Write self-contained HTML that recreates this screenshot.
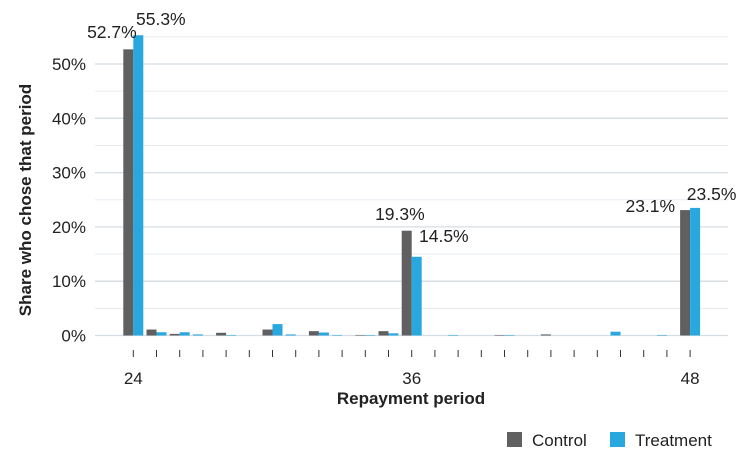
<!DOCTYPE html>
<html><head><meta charset="utf-8"><style>
body{margin:0;background:#fff;width:750px;height:458px;overflow:hidden;font-family:"Liberation Sans",sans-serif}
</style></head><body>
<svg width="750" height="458" id="chart" style="font-family:'Liberation Sans',sans-serif">
<g id="grid"></g><g id="bars"></g><g id="ticks"></g><g id="labels"></g>
<text transform="translate(31,200) rotate(-90)" text-anchor="middle" font-size="17" font-weight="bold" fill="#222">Share who chose that period</text>
<text x="411" y="404" text-anchor="middle" font-size="17" font-weight="bold" fill="#222">Repayment period</text>
<g>
<rect x="507" y="432" width="15" height="15" fill="#606060"/>
<text x="532" y="446" font-size="17" fill="#222">Control</text>
<rect x="610" y="432" width="15" height="15" fill="#29a8e0"/>
<text x="635" y="446" font-size="17" fill="#222">Treatment</text>
</g>
</svg>
<script>
const periods=[24,25,26,27,28,29,30,31,32,33,34,35,36,37,38,39,40,41,42,43,44,45,46,47,48];
const control=[52.7,1.1,0.3,null,0.5,null,1.1,null,0.8,null,0.1,0.8,19.3,null,null,null,0.1,null,0.2,null,null,null,null,null,23.1];
const treatment=[55.3,0.6,0.6,0.2,0.1,null,2.1,0.2,0.55,0.1,0.1,0.4,14.5,null,0.1,null,0.1,null,null,null,null,0.7,null,0.1,23.5];
const yTicks=[0,10,20,30,40,50];
const xLabels=[24,36,48];
const labeled=[24,36,48];
const ctrlLabelOff=[[3.4,-11.3],[13,-10.7],[-15,1.7]];
const trtLabelOff=[[2.7,-10.2],[7.3,-15],[-3.3,-8]];
const NS="http://www.w3.org/2000/svg";
const y=v=>335.5-v*5.43;
const x=p=>133.3+(p-24)*23.2;
const BW=10;
function mk(t,a,parent){const e=document.createElementNS(NS,t);for(const k in a)e.setAttribute(k,a[k]);document.getElementById(parent).appendChild(e);return e;}
for(let v=0;v<=55;v+=5){
 const l=mk('line',{x1:95,x2:728,y1:y(v),y2:y(v),stroke:v%10===0?'#d5dde3':'#e6ecf0','stroke-width':v%10===0?1.3:1},'grid');
 
 
}
yTicks.forEach(v=>{
 const t=mk('text',{x:86,y:y(v)+6,'text-anchor':'end','font-size':17,fill:'#222'},'grid');
 t.textContent=v+'%';
 
 
});
periods.forEach((p,i)=>{
 const cx=x(p);
 const cv=control[i], tv=treatment[i];
 if(cv!==null){
  const c=mk('rect',{x:cx-BW,y:y(cv),width:BW,height:335.5-y(cv),fill:'#606060'},'bars');
  
  
 }
 if(tv!==null){
  const tx=cv===null?cx-BW:cx;
  const t=mk('rect',{x:tx,y:y(tv),width:BW,height:335.5-y(tv),fill:'#29a8e0'},'bars');
  
  
 }
 const tk=mk('line',{x1:cx,x2:cx,y1:350,y2:357,stroke:'#333','stroke-width':1},'ticks');
 
 
 const li=labeled.indexOf(p);
 if(li>=0){
  const co=ctrlLabelOff[li], to=trtLabelOff[li];
  const cl=mk('text',{x:cx+co[0],y:y(cv)+co[1],'text-anchor':'end','font-size':17.5,fill:'#222'},'labels');
  cl.textContent=cv.toFixed(1)+'%';
  
  
  const tl=mk('text',{x:cx+to[0],y:y(tv)+to[1],'font-size':17.5,fill:'#222'},'labels');
  tl.textContent=tv.toFixed(1)+'%';
  
  
 }
});
xLabels.forEach(p=>{
 const t=mk('text',{x:x(p),y:384,'text-anchor':'middle','font-size':17,fill:'#222'},'ticks');
 t.textContent=p;
 
 
});
</script>
</body></html>
